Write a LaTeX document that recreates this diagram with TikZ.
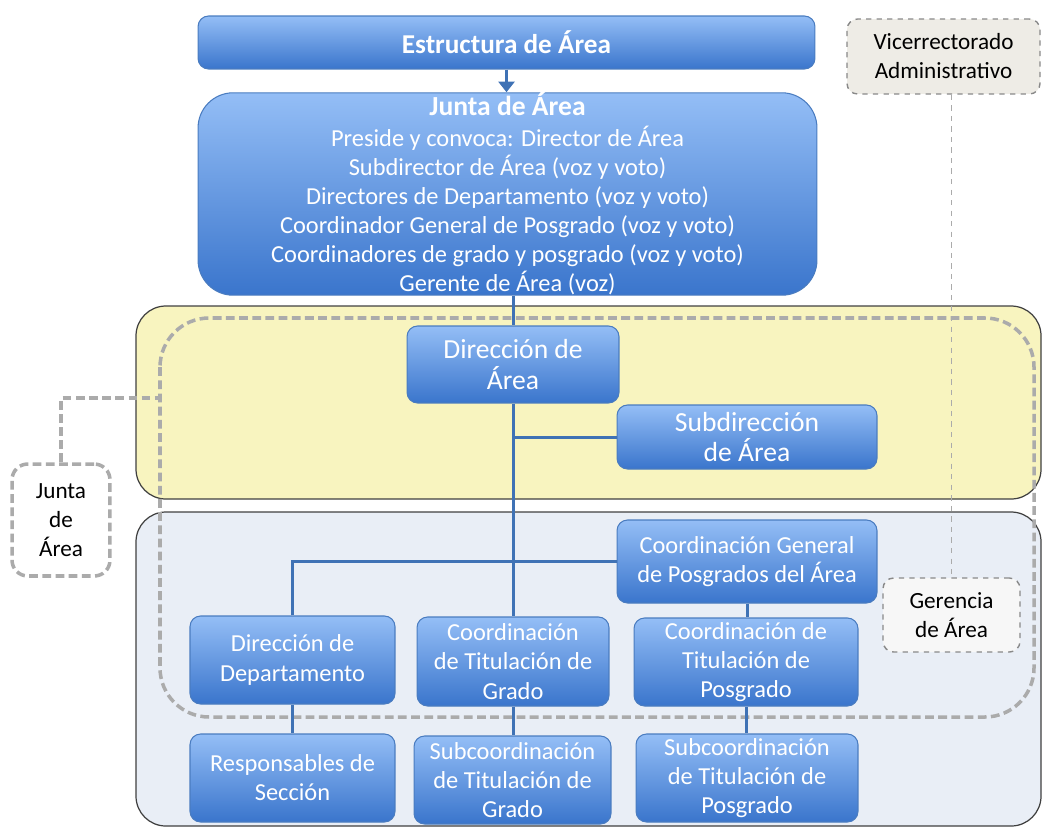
\documentclass[tikz,border=0pt]{standalone}
\usepackage{fontspec}
\setmainfont{Carlito}
\usetikzlibrary{arrows.meta}

\definecolor{boxtop}{HTML}{94BEF6}
\definecolor{boxbot}{HTML}{3A75CC}
\definecolor{boxline}{HTML}{4A7CC0}
\definecolor{linkblue}{HTML}{3F72B5}
\definecolor{zonea}{HTML}{F8F4BF}
\definecolor{zoneb}{HTML}{E9EEF6}
\definecolor{greyline}{HTML}{ABABAB}
\definecolor{viceback}{HTML}{EEECE6}

\tikzset{
  unit/.style={draw=boxline, line width=0.6pt, rounded corners=6pt,
    top color=boxtop, bottom color=boxbot, text=white, align=center,
    inner sep=2pt, font=\fontsize{13.9}{16.6}\selectfont},
  bigunit/.style={unit, font=\fontsize{15.7}{17.6}\selectfont},
  extunit/.style={draw=greyline!80!black, dashed, line width=0.8pt,
    rounded corners=6pt, align=center, text=black,
    font=\fontsize{13.2}{16.5}\selectfont},
  link/.style={draw=linkblue, line width=1.7pt},
  farlink/.style={draw=greyline, line width=2pt, dash pattern=on 5pt off 2.5pt},
}

\begin{document}
\begin{tikzpicture}[x=0.02cm, y=-0.02cm]
    \useasboundingbox (0,0) rectangle (1043,828);

    % zones
    \draw[draw=black!75, fill=zonea, line width=0.7pt, rounded corners=17pt] (136,306) rectangle (1041,499);
    \draw[draw=black!75, fill=zoneb, line width=0.7pt, rounded corners=17pt] (136,512) rectangle (1041,826);
    \draw[farlink, rounded corners=28pt] (160,318) rectangle (1034,717);

    % nodes
    \node[unit, minimum width=12.34cm, minimum height=1.06cm,
        font=\bfseries\fontsize{15.5}{17}\selectfont] (estr) at (506.5,42.5) {Estructura de Área};
    \node[unit, rounded corners=20pt, inner ysep=0pt, minimum width=12.38cm, minimum height=4.04cm] (junta) at (507.5,194)
        {{\bfseries\fontsize{15.7}{17}\selectfont Junta de Área}\\[0.5pt]
         Preside y convoca: Director de Área\\
         Subdirector de Área (voz y voto)\\
         Directores de Departamento (voz y voto)\\
         Coordinador General de Posgrado (voz y voto)\\
         Coordinadores de grado y posgrado (voz y voto)\\
         Gerente de Área (voz)};

    \node[bigunit, minimum width=4.24cm, minimum height=1.54cm] (dir) at (513,364.5) {Dirección de\\Área};
    \node[bigunit, minimum width=5.2cm, minimum height=1.28cm] (subdir) at (747,437) {Subdirección\\de Área};
    \node[unit, minimum width=5.2cm, minimum height=1.66cm] (cgen) at (747,561.5) {Coordinación General\\de Posgrados del Área};

    \node[unit, minimum width=4.1cm, minimum height=1.76cm] (dept) at (292.5,660) {Dirección de\\Departamento};
    \node[unit, minimum width=3.84cm, minimum height=1.78cm] (tgrado) at (513,661.5) {Coordinación\\de Titulación de\\Grado};
    \node[unit, minimum width=4.48cm, minimum height=1.76cm] (tposg) at (746,662) {Coordinación de\\Titulación de\\Posgrado};

    \node[unit, minimum width=4.1cm, minimum height=1.76cm] (resp) at (292.5,778) {Responsables de\\Sección};
    \node[unit, minimum width=3.94cm, minimum height=1.76cm] (sgrado) at (512.5,780) {Subcoordinación\\de Titulación de\\Grado};
    \node[unit, minimum width=4.44cm, minimum height=1.76cm] (sposg) at (747,778) {Subcoordinación\\de Titulación de\\Posgrado};

    \node[extunit, fill=viceback, minimum width=3.86cm, minimum height=1.5cm] (vice) at (943.5,56.5) {Vicerrectorado\\Administrativo};
    \node[extunit, fill=white!97!black, minimum width=2.74cm, minimum height=1.48cm] (ger) at (951.5,615) {Gerencia\\de Área};
    \node[extunit, farlink, fill=white, rounded corners=9pt, minimum width=1.96cm, minimum height=2.24cm] (jleft) at (61,520) {Junta\\de\\Área};
    \coordinate (jtap) at (160,398);

    % connectors
    \draw[link, -{Triangle[width=9pt,length=6pt]}] (estr.south) -- (estr.south |- junta.north);
    \draw[link] (dir.north |- junta.south) -- (dir.north);
    \draw[link] (dir.south) -- (tgrado.north);
    \draw[link] (dir.south |- subdir.west) -- (subdir.west);
    \draw[link] (dept.north) |- (cgen.west);
    \draw[link] (cgen.south) -- (cgen.south |- tposg.north);
    \draw[link] (dept.south) -- (resp.north);
    \draw[link] (tgrado.south) -- (tgrado.south |- sgrado.north);
    \draw[link] (tposg.south) -- (tposg.south |- sposg.north);

    \draw[draw=greyline, line width=0.9pt, dashed] (ger.north |- vice.south) -- (ger.north);
    \draw[farlink] (jleft.north) |- (jtap);
\end{tikzpicture}
\end{document}
